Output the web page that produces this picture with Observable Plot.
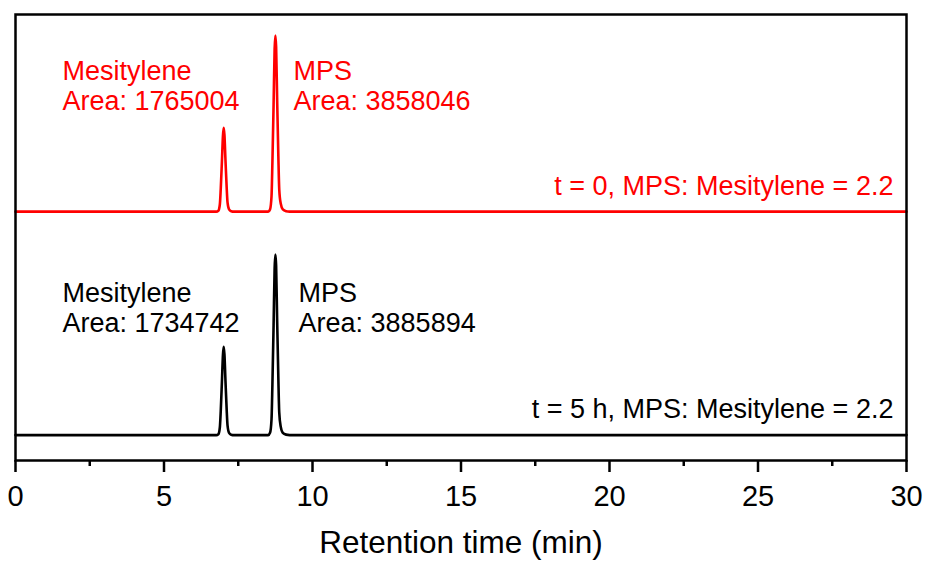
<!DOCTYPE html>
<html>
<head>
<meta charset="utf-8">
<script src="https://cdn.jsdelivr.net/npm/d3@7"></script>
<script src="https://cdn.jsdelivr.net/npm/@observablehq/plot@0.6"></script>
<style>
  html, body { margin: 0; padding: 0; background: #fff; }
  #chart { width: 927px; height: 562px; }
</style>
</head>
<body>
<div id="chart"></div>
<script>
// Retention time (min), shared by both chromatograms
const retentionTime = [0, 6.76, 6.83, 6.88, 6.91, 6.95, 6.985, 7.01, 7.035, 7.07, 7.11, 7.14, 7.19, 7.26, 7.36,
  8.51, 8.57, 8.62, 8.65, 8.69, 8.725, 8.75, 8.775, 8.81, 8.85, 8.88, 8.93, 9.00, 9.11, 9.23, 30];
// Detector signal above baseline (arbitrary units), t = 0 (red)
const signalT0 = [0, 0, 0.2, 1.6, 5.0, 11.2, 17.0, 18.8, 17.2, 11.5, 5.4, 2.0, 0.5, 0.1, 0,
  0, 0.5, 3.4, 11.0, 24.0, 36.5, 39.5, 37.0, 25.0, 12.5, 5.0, 1.8, 0.5, 0.1, 0, 0];
// Detector signal above baseline (arbitrary units), t = 5 h (black)
const signalT5 = [0, 0, 0.2, 1.7, 5.3, 11.9, 18.0, 19.8, 18.1, 12.1, 5.7, 2.1, 0.5, 0.1, 0,
  0, 0.5, 3.5, 11.3, 24.6, 37.4, 40.5, 38.0, 25.6, 12.8, 5.1, 1.9, 0.5, 0.1, 0, 0];

// Vertical offsets of the stacked traces
const offsetT0 = 55.8;
const offsetT5 = 5.7;

const majorTicks = [0, 5, 10, 15, 20, 25, 30];
const minorTicks = [2.5, 7.5, 12.5, 17.5, 22.5, 27.5];

const labelsT0 = ["Mesitylene", "Area: 1765004", "MPS", "Area: 3858046", "t = 0, MPS: Mesitylene = 2.2"];
const labelsT5 = ["Mesitylene", "Area: 1734742", "MPS", "Area: 3885894", "t = 5 h, MPS: Mesitylene = 2.2"];
const xTitle = "Retention time (min)";

const traceT0 = retentionTime.map((t, i) => ({t, v: signalT0[i] + offsetT0}));
const traceT5 = retentionTime.map((t, i) => ({t, v: signalT5[i] + offsetT5}));

const RED = "#ff0000";
const fs = 27;

function label(text, x, y, color, anchor = "start") {
  return Plot.text([text], {x: () => x, y: () => y, text: d => d, fill: color, fontSize: fs,
    textAnchor: anchor, lineAnchor: "bottom"});
}

const chart = Plot.plot({
  width: 927,
  height: 562,
  marginLeft: 15,
  marginRight: 21,
  marginTop: 14,
  marginBottom: 102,
  style: {fontFamily: "'Liberation Sans', Arial, sans-serif", background: "#fff", color: "#000"},
  x: {domain: [0, 30]},
  y: {domain: [0, 100], axis: null},
  marks: [
    Plot.line(traceT0, {x: "t", y: "v", stroke: RED, strokeWidth: 2.6, curve: "monotone-x"}),
    Plot.line(traceT5, {x: "t", y: "v", stroke: "#000", strokeWidth: 2.6, curve: "monotone-x"}),
    label(labelsT0[0], 1.58, 85.4, RED),
    label(labelsT0[1], 1.58, 78.5, RED),
    label(labelsT0[2], 9.36, 85.4, RED),
    label(labelsT0[3], 9.36, 78.5, RED),
    label(labelsT0[4], 29.56, 59.6, RED, "end"),
    label(labelsT5[0], 1.58, 35.6, "#000"),
    label(labelsT5[1], 1.58, 28.9, "#000"),
    label(labelsT5[2], 9.53, 35.6, "#000"),
    label(labelsT5[3], 9.53, 28.9, "#000"),
    label(labelsT5[4], 29.56, 9.6, "#000", "end"),
    Plot.axisX(majorTicks, {tickSize: 12, tickPadding: 13, fontSize: 29, strokeWidth: 2.5, label: null}),
    Plot.axisX(minorTicks, {tickSize: 6, strokeWidth: 2.5, tickFormat: () => "", label: null}),
    Plot.text([xTitle], {frameAnchor: "bottom", dy: 92, lineAnchor: "bottom", fontSize: 31.5, text: d => d, fill: "#000"}),
    Plot.frame({stroke: "#000", strokeWidth: 2.5})
  ]
});
document.getElementById("chart").appendChild(chart);
</script>
</body>
</html>
